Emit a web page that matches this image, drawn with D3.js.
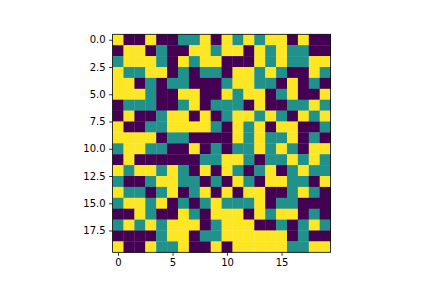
<!DOCTYPE html>
<html>
<head>
<meta charset="utf-8">
<script src="https://cdn.jsdelivr.net/npm/d3@7"></script>
<style>
  body { margin: 0; background: #fff; }
  svg { display: block; font-family: "DejaVu Sans", sans-serif; }
</style>
</head>
<body>
<svg></svg>
<script>
// cell values, row by row (0 = low, 1 = mid, 2 = high)
const grid = [
  [2,0,0,2,0,0,1,1,2,0,2,1,2,1,2,2,0,2,0,0],
  [0,2,2,0,1,0,0,2,2,1,2,2,0,2,1,2,1,1,0,0],
  [1,2,2,2,1,0,2,1,2,2,0,0,0,2,1,2,1,1,2,2],
  [2,1,1,2,2,0,1,0,1,1,0,2,2,1,2,1,0,0,2,1],
  [2,2,0,1,0,1,1,0,0,0,1,2,2,1,1,0,2,0,1,0],
  [2,2,2,1,0,0,2,2,0,0,2,1,2,2,0,1,2,0,0,2],
  [0,1,1,1,0,0,1,2,0,1,1,1,0,2,0,0,1,1,2,1],
  [0,2,0,0,1,2,2,0,2,0,1,2,2,1,2,1,0,2,1,2],
  [2,0,0,1,1,2,2,2,2,1,0,2,1,2,0,2,2,0,0,1],
  [2,2,2,2,0,1,1,0,0,0,0,2,1,2,1,1,2,0,1,0],
  [1,2,2,1,1,0,0,2,0,1,0,1,1,2,1,2,1,0,2,2],
  [0,2,0,0,0,0,0,0,1,1,2,2,1,0,1,1,2,1,2,1],
  [2,1,2,2,1,2,1,0,2,0,2,1,0,1,2,0,1,2,1,1],
  [1,0,0,1,2,2,1,1,0,1,0,2,1,0,2,2,1,1,0,2],
  [2,1,1,0,1,2,0,1,2,0,2,0,2,2,0,0,1,2,1,0],
  [1,2,2,1,2,0,1,0,1,2,1,1,1,2,0,1,1,0,0,0],
  [0,0,2,1,0,0,2,1,0,2,2,2,0,2,1,2,2,0,1,0],
  [1,2,1,2,1,2,2,2,0,1,2,2,2,0,0,1,0,1,2,1],
  [0,0,0,0,1,2,2,0,1,1,2,2,2,2,2,2,0,1,0,0],
  [2,0,0,2,1,1,2,0,0,2,0,2,2,2,2,2,1,1,2,2]
]
const xTicks = [0, 5, 10, 15]
const yTicks = [0, 2.5, 5, 7.5, 10, 12.5, 15, 17.5]

let width = 432
let height = 288
let padLeft = 112.6
let padTop = 34.3
let size = 218

let n = grid.length

let xScale = d3.scaleLinear()
                .domain([-0.5, n - 0.5])
                .range([padLeft, padLeft + size])

let yScale = d3.scaleLinear()
                .domain([-0.5, n - 0.5])
                .range([padTop, padTop + size])

// viridis at 0, 0.5, 1
let colorScale = d3.scaleOrdinal()
                    .domain([0, 1, 2])
                    .range([d3.interpolateViridis(0), d3.interpolateViridis(0.5), d3.interpolateViridis(1)])

let svg = d3.select('svg')
    .attr('width', width)
    .attr('height', height)

let cells = grid.flatMap((row, r) => row.map((v, c) => ({ r, c, v })))

svg.append('g')
  .selectAll('rect')
  .data(cells)
  .enter()
  .append('rect')
    .attr('x', d => xScale(d.c - 0.5))
    .attr('y', d => yScale(d.r - 0.5))
    .attr('width', xScale(1) - xScale(0) + 0.3)
    .attr('height', yScale(1) - yScale(0) + 0.3)
    .attr('fill', d => colorScale(d.v))

let xAxis = d3.axisBottom(xScale)
              .tickValues(xTicks)
              .tickFormat(d3.format('d'))
              .tickSize(3.5)
              .tickPadding(3.5)
              .tickSizeOuter(0)

let yAxis = d3.axisLeft(yScale)
              .tickValues(yTicks)
              .tickFormat(d3.format('.1f'))
              .tickSize(3.5)
              .tickPadding(3.5)
              .tickSizeOuter(0)

let gx = svg.append('g')
    .attr('transform', `translate(0, ${padTop + size})`)
    .call(xAxis)

let gy = svg.append('g')
    .attr('transform', `translate(${padLeft}, 0)`)
    .call(yAxis)

for (let g of [gx, gy]) {
  g.select('.domain').remove()
  g.selectAll('line').attr('stroke', '#000').attr('stroke-width', 0.8)
  g.selectAll('text')
    .attr('fill', '#000')
    .style('font-size', '10px')
    .style('font-family', '"DejaVu Sans", sans-serif')
}

// frame round the image
svg.append('rect')
    .attr('x', padLeft)
    .attr('y', padTop)
    .attr('width', size)
    .attr('height', size)
    .attr('fill', 'none')
    .attr('stroke', '#000')
    .attr('stroke-width', 0.8)
</script>
</body>
</html>
